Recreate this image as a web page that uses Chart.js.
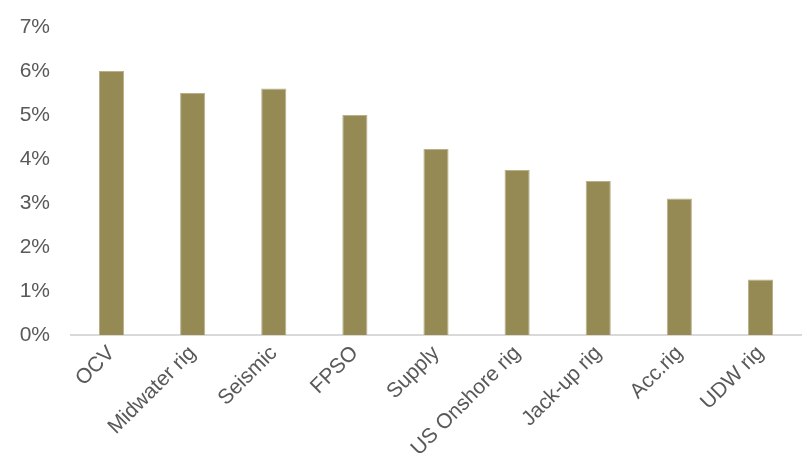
<!DOCTYPE html>
<html>
<head>
<meta charset="utf-8">
<script src="https://cdn.jsdelivr.net/npm/chart.js@4"></script>
<style>
  html, body { margin: 0; padding: 0; background: #fff; }
  #wrap { width: 807px; height: 463px; }
</style>
</head>
<body>
<div id="wrap"><canvas id="vesselChart"></canvas></div>
<script>
// categories + values (percent)
const categories = ['OCV', 'Midwater rig', 'Seismic', 'FPSO', 'Supply', 'US Onshore rig', 'Jack-up rig', 'Acc.rig', 'UDW rig'];
const values = [6.0, 5.5, 5.6, 5.0, 4.23, 3.75, 3.5, 3.1, 1.26];
const yTicks = [0, 1, 2, 3, 4, 5, 6, 7];

const ctx = document.getElementById('vesselChart');

new Chart(ctx, {
  type: 'bar',
  data: {
    labels: categories,
    datasets: [{
      data: values,
      backgroundColor: '#958a54',
      borderColor: '#b9b08a',
      borderWidth: 1,
      barPercentage: 0.31,
      categoryPercentage: 1.0
    }]
  },
  options: {
    responsive: true,
    maintainAspectRatio: false,
    animation: false,
    layout: {
      padding: { left: 0, right: 6, top: 27, bottom: 0 }
    },
    plugins: {
      legend: { display: false },
      tooltip: { enabled: false }
    },
    scales: {
      x: {
        grid: { display: false, drawTicks: false },
        border: { display: true, color: '#d9d9d9', width: 2 },
        ticks: {
          color: '#595959',
          font: { family: 'Liberation Sans, Arial, sans-serif', size: 21 },
          minRotation: 45,
          maxRotation: 45,
          padding: 6
        },
        afterFit: axis => { axis.height = 128; }
      },
      y: {
        min: 0,
        max: 7,
        afterBuildTicks: axis => { axis.ticks = yTicks.map(v => ({ value: v })); },
        grid: { display: false, drawTicks: false },
        border: { display: false },
        ticks: {
          color: '#595959',
          font: { family: 'Liberation Sans, Arial, sans-serif', size: 21 },
          padding: 21,
          callback: v => v + '%'
        },
        afterFit: axis => {
          axis.width = 71;
          axis.paddingTop = 0;
          axis.paddingBottom = 0;
        }
      }
    }
  }
});
</script>
</body>
</html>
